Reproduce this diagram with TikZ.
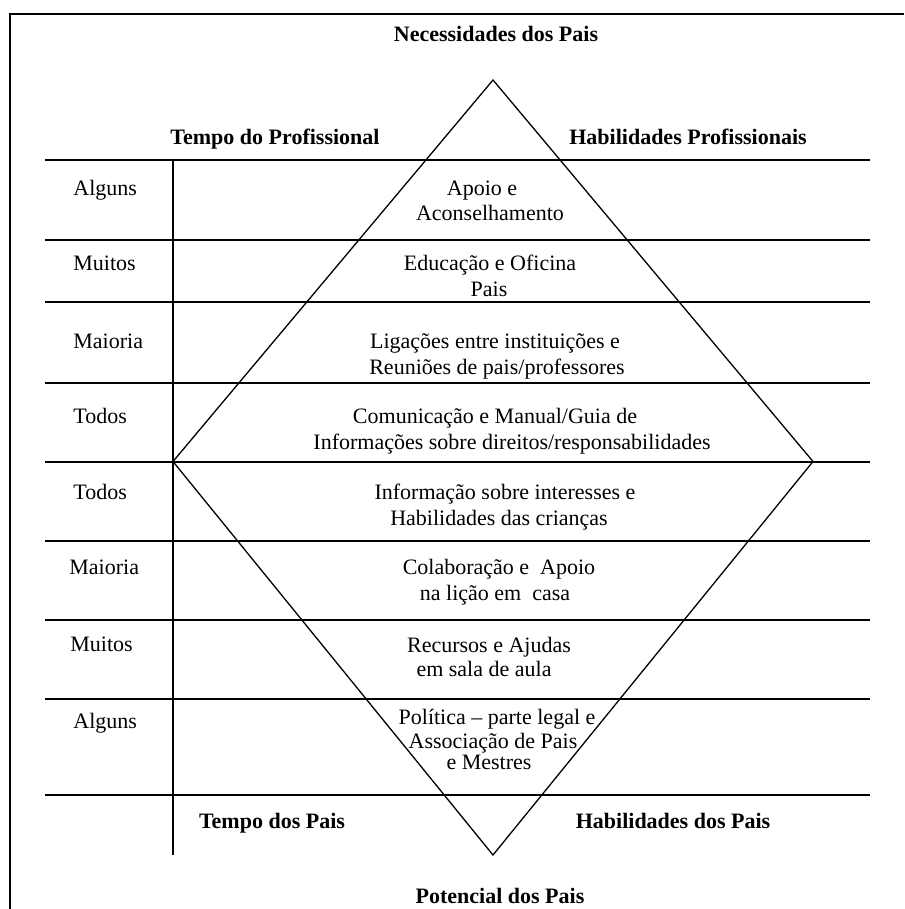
\documentclass[tikz,border=0pt]{standalone}
\usepackage{fontspec}
\setmainfont{Liberation Serif}
\begin{document}
\begin{tikzpicture}[x=0.5pt,y=-0.5pt,
  txt/.style={font=\fontsize{11}{12.5}\selectfont, inner sep=0pt, anchor=mid},
  hd/.style={font=\fontsize{11}{12.5}\selectfont\bfseries, inner sep=0pt, anchor=mid},
  lbl/.style={font=\fontsize{11}{12.5}\selectfont, inner sep=0pt, anchor=mid west},
  rule/.style={line width=1pt},
  dia/.style={line width=0.65pt},
  frame/.style={line width=0.8pt}]
\useasboundingbox (0,0) rectangle (904,909);
% frame (only top and left edges are visible)
\coordinate (fTL) at (10,14);
\coordinate (fBL) at (10,909);
\coordinate (fTR) at (904,14);
\draw[frame] (fBL) -- (fTL) -- (fTR);
% horizontal rules
\foreach \yy [count=\i] in {160.5,240,302,383,461.5,541,620,699,795} {
  \coordinate (hL\i) at (45,\yy);
  \coordinate (hR\i) at (870,\yy);
  \draw[rule] (hL\i) -- (hR\i);
}
% vertical rule
\coordinate (vT) at (173,160.5);
\coordinate (vB) at (173,855);
\draw[rule] (vT) -- (vB);
% diamond
\coordinate (dT) at (493,80);
\coordinate (dL) at (173,461.5);
\coordinate (dR) at (813,461.5);
\coordinate (dB) at (493,855);
\draw[dia] (dT) -- (dR) -- (dB) -- (dL) -- cycle;
% headings
\node[hd] (title) at (496,37) {Necessidades dos Pais};
\node[hd] (tprof) at (275,140) {Tempo do Profissional};
\node[hd] (hprof) at (688,140) {Habilidades Profissionais};
\node[hd] (tpais) at (272,824) {Tempo dos Pais};
\node[hd] (hpais) at (673,824) {Habilidades dos Pais};
\node[hd] (ppais) at (500,899) {Potencial dos Pais};
% left labels
\node[lbl] (l1) at (73,191) {Alguns};
\node[lbl] (l2) at (73,266) {Muitos};
\node[lbl] (l3) at (73,344) {Maioria};
\node[lbl] (l4) at (73,419) {Todos};
\node[lbl] (l5) at (73,495) {Todos};
\node[lbl] (l6) at (69,570) {Maioria};
\node[lbl] (l7) at (70,647) {Muitos};
\node[lbl] (l8) at (73,724) {Alguns};
% centre texts
\node[txt] (c1a) at (482,191) {Apoio e};
\node[txt] (c1b) at (490,216) {Aconselhamento};
\node[txt] (c2a) at (490,266) {Educação e Oficina};
\node[txt] (c2b) at (489,292) {Pais};
\node[txt] (c3a) at (495,344) {Ligações entre instituições e};
\node[txt] (c3b) at (497,370) {Reuniões de pais/professores};
\node[txt] (c4a) at (495,419) {Comunicação e Manual/Guia de};
\node[txt] (c4b) at (512,445) {Informações sobre direitos/responsabilidades};
\node[txt] (c5a) at (505,495) {Informação sobre interesses e};
\node[txt] (c5b) at (499,521) {Habilidades das crianças};
\node[txt] (c6a) at (499,570) {Colaboração e\ \ Apoio};
\node[txt] (c6b) at (495,596) {na lição em\ \ casa};
\node[txt] (c7a) at (489,648) {Recursos e Ajudas};
\node[txt] (c7b) at (484,672) {em sala de aula};
\node[txt] (c8a) at (497,720) {Política – parte legal e};
\node[txt] (c8b) at (493,744) {Associação de Pais};
\node[txt] (c8c) at (489,765) {e Mestres};
\end{tikzpicture}
\end{document}
